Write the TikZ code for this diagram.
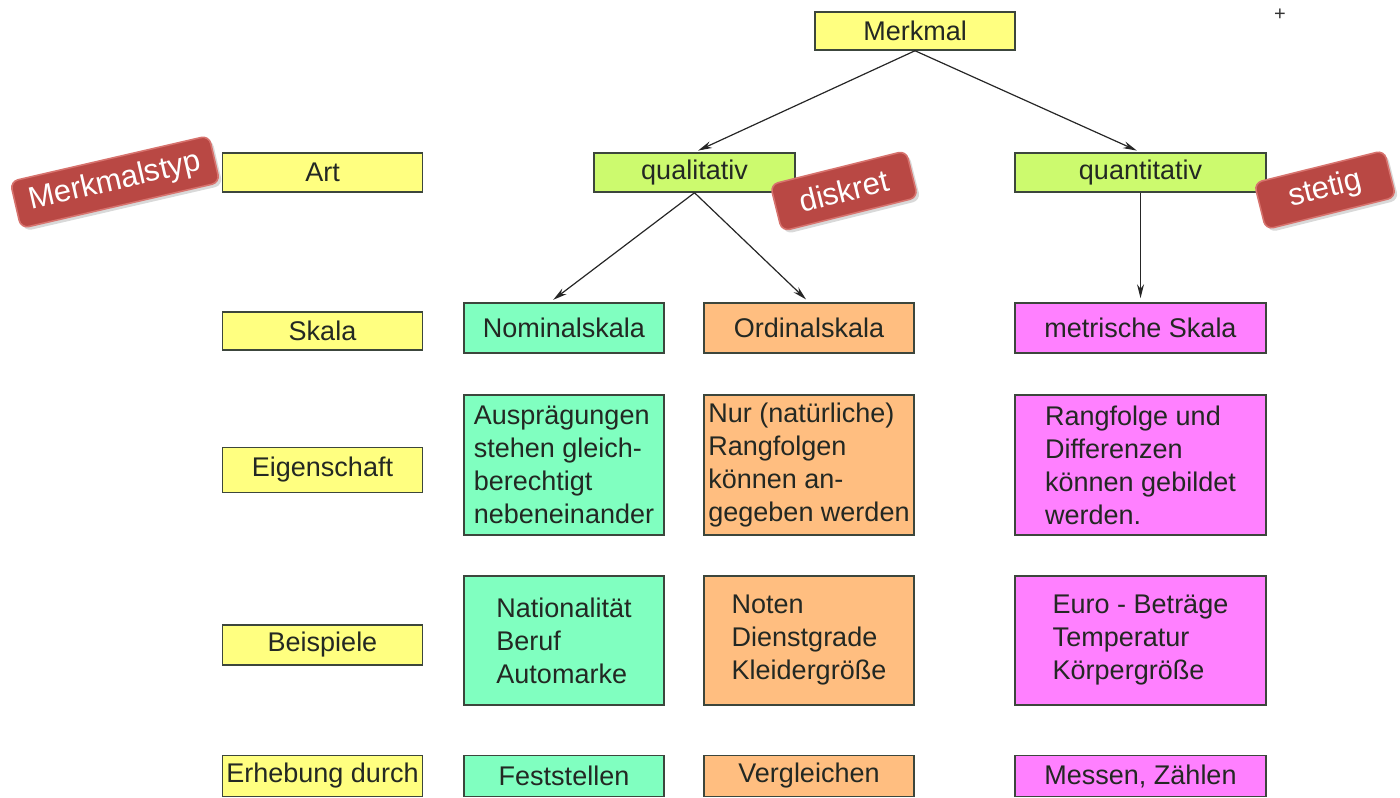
\documentclass[tikz,border=0pt]{standalone}
\usepackage{fontspec}
\setmainfont{Liberation Sans}
\usepackage{tikz}
\usetikzlibrary{arrows.meta,shadows}

\definecolor{lightyellow}{RGB}{255,255,128}
\definecolor{limegreen}{RGB}{204,250,110}
\definecolor{mintgreen}{RGB}{128,255,192}
\definecolor{apricot}{RGB}{255,190,128}
\definecolor{pinkish}{RGB}{255,128,255}
\definecolor{tagred}{RGB}{185,72,68}
\definecolor{tagedge}{RGB}{215,115,110}
\definecolor{edgegray}{RGB}{60,70,60}
\definecolor{textgray}{RGB}{35,40,35}

\begin{document}
\begin{tikzpicture}[x=0.5pt,y=-0.5pt]
\tikzstyle{every node}+=[inner sep=0pt]
\tikzstyle{box}=[draw=edgegray, line width=0.75pt, align=left, text=textgray,
  font=\fontsize{13.5}{16.5}\selectfont]
\tikzstyle{tag}=[fill=tagred, draw=tagedge, line width=0.8pt, rounded corners=4pt,
  text=white, font=\fontsize{15.5}{18}\selectfont, minimum height=24pt,
  drop shadow={opacity=0.3, shadow xshift=1.5pt, shadow yshift=-1.5pt}]
\tikzstyle{arr}=[draw=black!85, line width=0.6pt, -{Stealth[length=7pt,width=3.5pt]}, shorten >=2pt]
\useasboundingbox (0,0) rectangle (1400,797);
% row headers
\node [box, fill=lightyellow, minimum width=100pt, minimum height=19.5pt] (art) at (322.5,172.5) {Art};
\node [box, fill=lightyellow, minimum width=100pt, minimum height=19pt] (skala) at (322.5,331) {Skala};
\node [box, fill=lightyellow, minimum width=100pt, minimum height=22.5pt] (eigen) at (322.5,470) {Eigenschaft};
\node [box, fill=lightyellow, minimum width=100pt, minimum height=20pt] (beisp) at (322.5,645) {Beispiele};
\node [box, fill=lightyellow, minimum width=100pt, minimum height=20.5pt] (erheb) at (322.5,776) {Erhebung durch};
% tree
\node [box, fill=lightyellow, minimum width=100pt, minimum height=19pt] (merkmal) at (915,31) {Merkmal};
\node [box, fill=limegreen, minimum width=100.5pt, minimum height=19.5pt] (qual) at (694.5,172.5) {qualitativ};
\node [box, fill=limegreen, minimum width=125.5pt, minimum height=19.5pt] (quant) at (1140.5,172.5) {quantitativ};
\node [box, fill=mintgreen, minimum width=100pt, minimum height=25pt] (nominal) at (564,328) {Nominalskala};
\node [box, fill=apricot, minimum width=105pt, minimum height=25pt] (ordinal) at (809,328) {Ordinalskala};
\node [box, fill=pinkish, minimum width=125.5pt, minimum height=25pt] (metrisch) at (1140.5,328) {metrische Skala};
% Eigenschaft
\node [box, fill=mintgreen, minimum width=100pt, minimum height=70pt] (nomeig) at (564,465)
  {Ausprägungen\\stehen gleich-\\berechtigt\\nebeneinander};
\node [box, fill=apricot, minimum width=105pt, minimum height=70pt] (ordeig) at (809,465)
  {Nur (natürliche)\\Rangfolgen\\können an-\\gegeben werden};
\node [box, fill=pinkish, minimum width=125.5pt, minimum height=70pt] (meteig) at (1140.5,465)
  {Rangfolge und\\Differenzen\\können gebildet\\werden.};
% Beispiele
\node [box, fill=mintgreen, minimum width=100pt, minimum height=64.5pt] (nombsp) at (564,640.5)
  {Nationalität\\Beruf\\Automarke};
\node [box, fill=apricot, minimum width=105pt, minimum height=64.5pt] (ordbsp) at (809,640.5)
  {Noten\\Dienstgrade\\Kleidergröße};
\node [box, fill=pinkish, minimum width=125.5pt, minimum height=64.5pt] (metbsp) at (1140.5,640.5)
  {Euro - Beträge\\Temperatur\\Körpergröße};
% Erhebung
\node [box, fill=mintgreen, minimum width=100pt, minimum height=20.5pt] (nomerh) at (564,776) {Feststellen};
\node [box, fill=apricot, minimum width=105pt, minimum height=20.5pt] (orderh) at (809,776) {Vergleichen};
\node [box, fill=pinkish, minimum width=125.5pt, minimum height=20.5pt] (meterh) at (1140.5,776) {Messen, Zählen};
% arrows
\draw [arr] (merkmal.south) -- (qual.north);
\draw [arr] (merkmal.south) -- (quant.north);
\draw [arr] (qual.south) -- ([xshift=-7pt]nominal.north);
\draw [arr] (qual.south) -- (ordinal.north);
\draw [arr] (quant.south) -- (metrisch.north);
% red tags
\node [tag, minimum width=102pt, rotate=13] (typtag) at (115,182) {Merkmalstyp};
\node [tag, minimum width=70pt, rotate=14] (disktag) at (844,191) {diskret};
\node [tag, minimum width=67pt, rotate=14] (stettag) at (1325,190) {stetig};
\node [font=\fontsize{10}{12}\selectfont, text=black!80] (plus) at (1280,15) {+};
\end{tikzpicture}
\end{document}
